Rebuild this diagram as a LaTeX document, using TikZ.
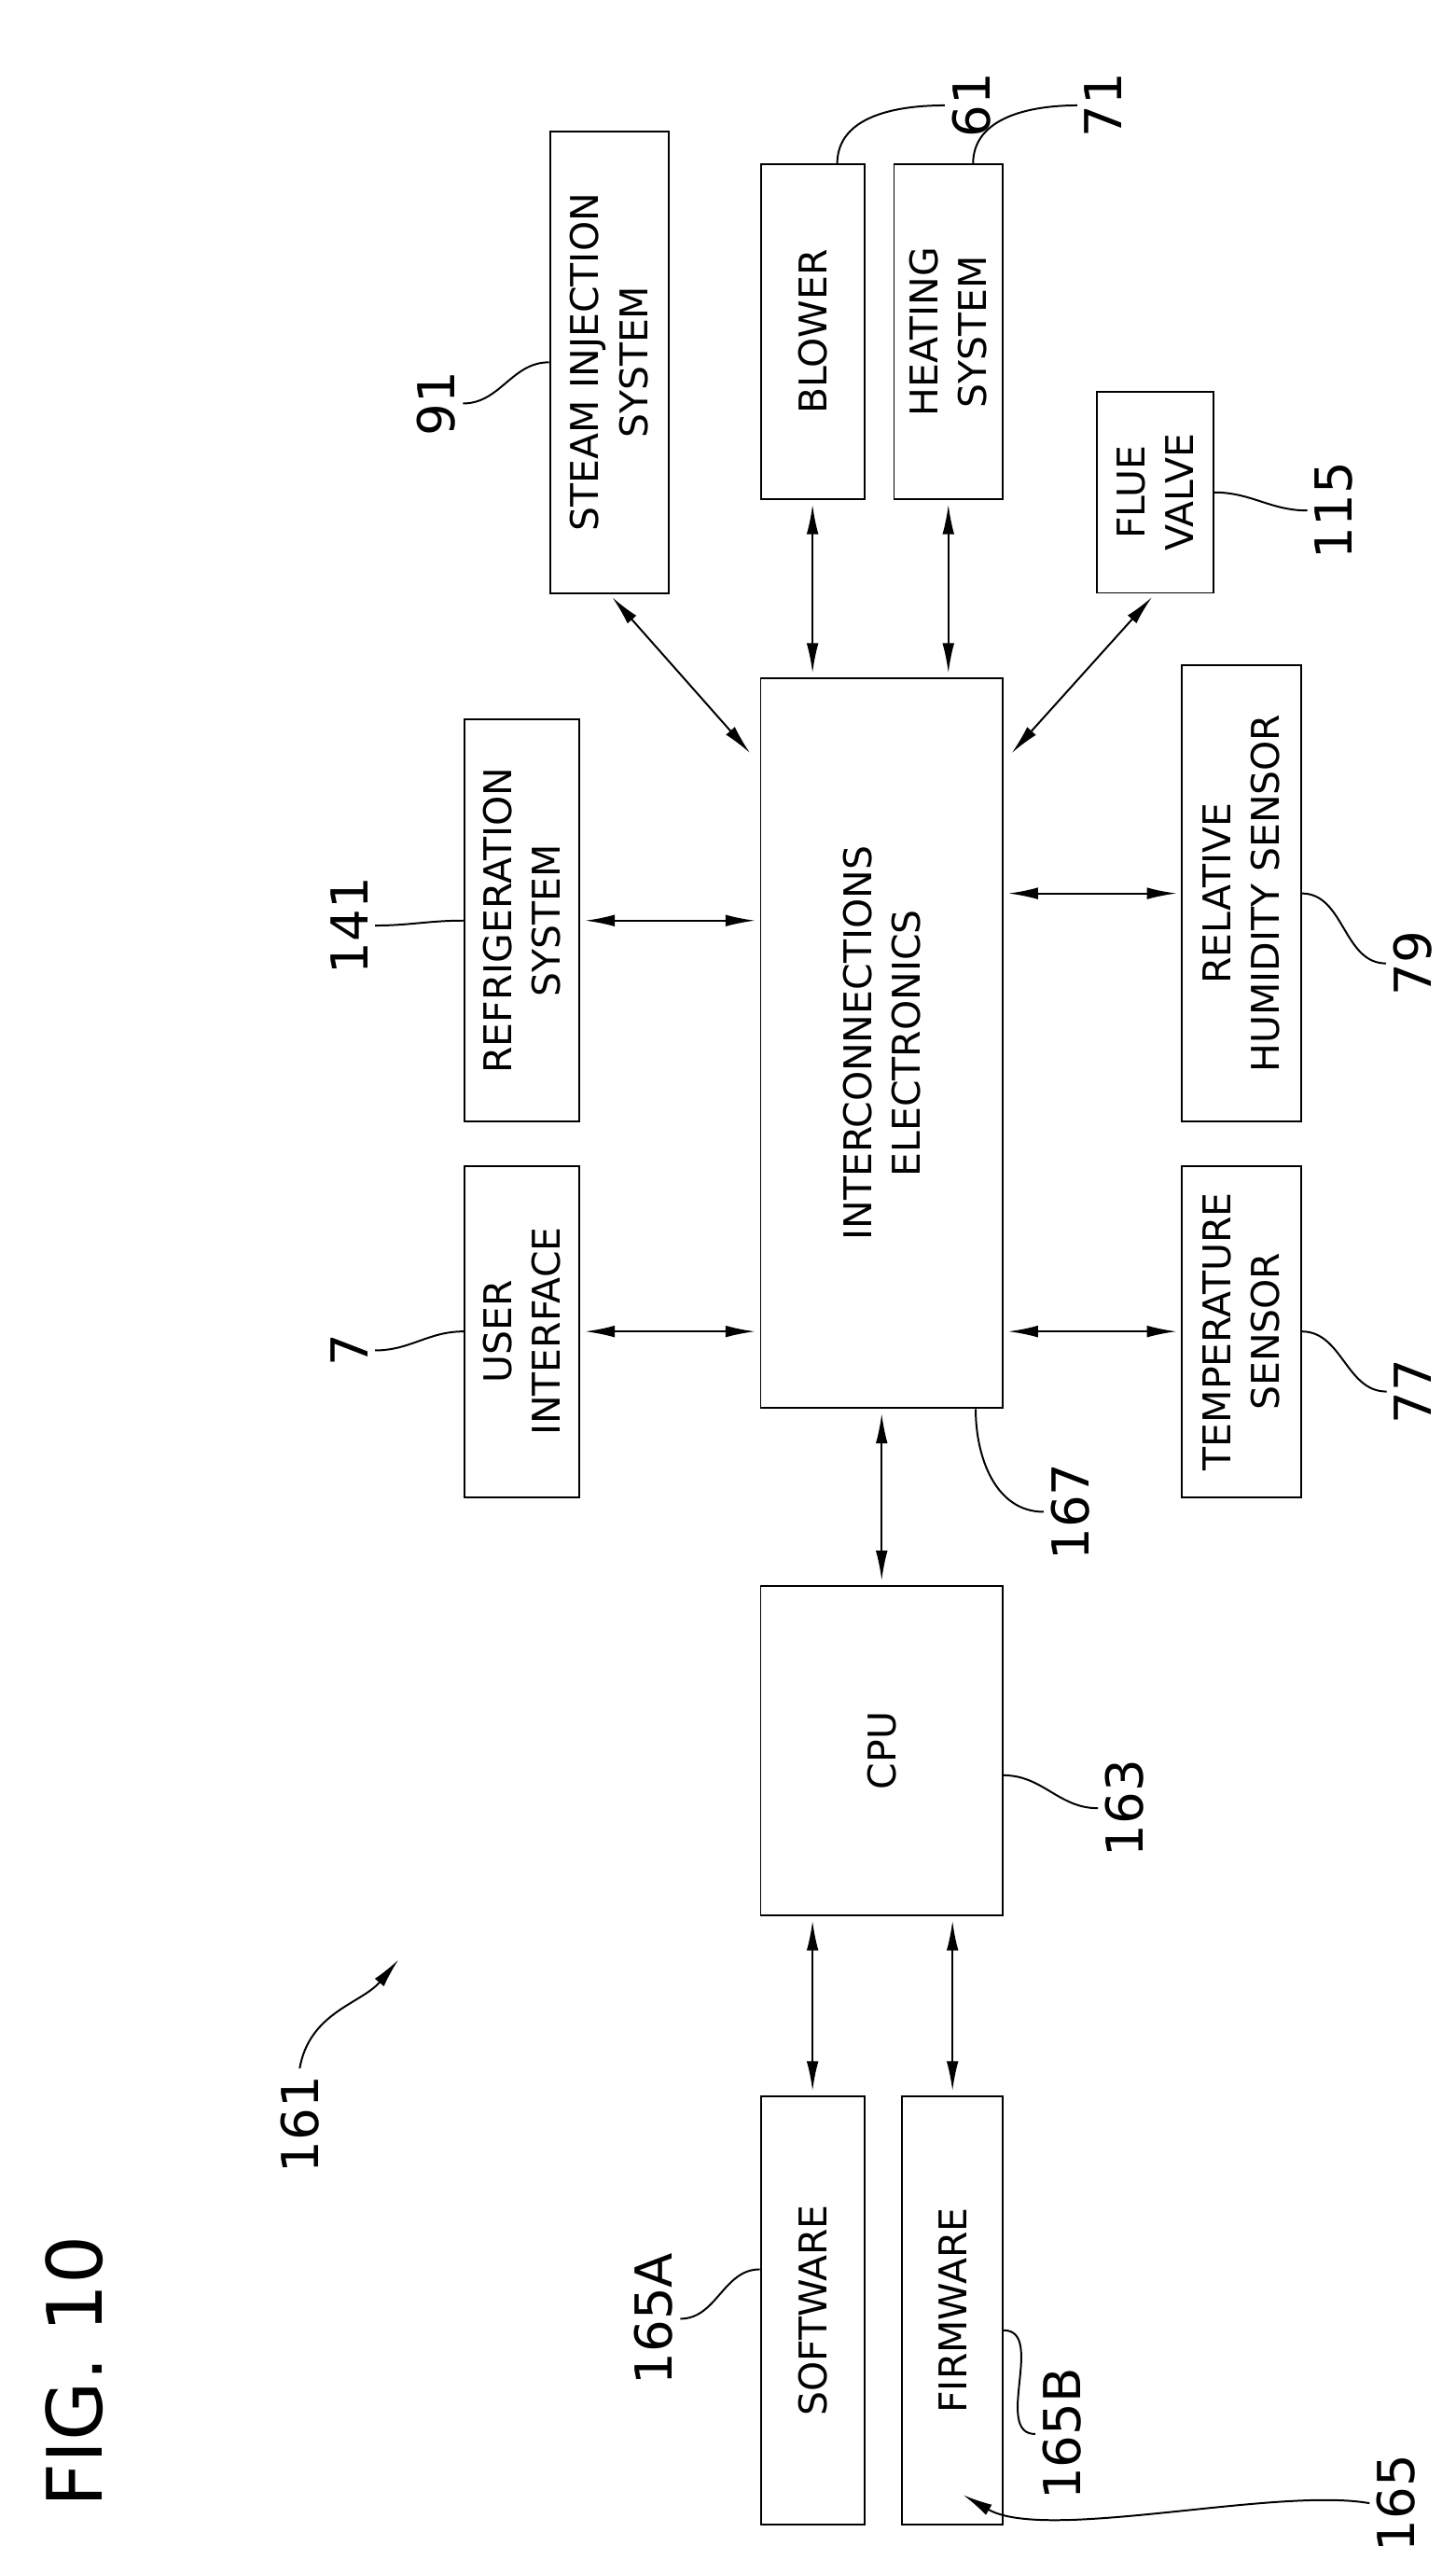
\documentclass[tikz,border=0pt]{standalone}
\usepackage{fontspec}
\setmainfont{DejaVu Sans}
\usetikzlibrary{arrows.meta,positioning,calc}

\begin{document}
\begin{tikzpicture}[x=0.025cm,y=-0.025cm,
	box/.style={draw,thick,rotate=90,align=center,inner sep=0pt,font=\fontsize{16.5}{21}\selectfont},
	num/.style={rotate=90,inner sep=3pt,font=\fontsize{22}{26}\selectfont},
	link/.style={thick,{Latex[length=4.5mm,width=1.8mm]}-{Latex[length=4.5mm,width=1.8mm]},shorten <=2pt,shorten >=2pt},
	lead/.style={thick}]
	\useasboundingbox (0,0) rectangle (884,1563);
	
	% boxes
	\node[box,minimum width=11.075cm,minimum height=3.675cm] (ie) at (535.5,633.5) {INTERCONNECTIONS\\ELECTRONICS};
	\node[box,minimum width=5cm,minimum height=3.675cm] (cpu) at (535.5,1063) {CPU};
	\node[box,minimum width=6.5cm,minimum height=1.575cm] (sw) at (493.5,1403) {SOFTWARE};
	\node[box,minimum width=6.5cm,minimum height=1.525cm] (fw) at (578.5,1403) {FIRMWARE};
	\node[box,minimum width=5.025cm,minimum height=1.75cm] (ui) at (317,808.5) {USER\\INTERFACE};
	\node[box,minimum width=6.1cm,minimum height=1.75cm] (refr) at (317,559) {REFRIGERATION\\SYSTEM};
	\node[box,minimum width=7cm,minimum height=1.8cm] (steam) at (370,220) {STEAM INJECTION\\SYSTEM};
	\node[box,minimum width=5.075cm,minimum height=1.575cm] (blower) at (493.5,201.5) {BLOWER};
	\node[box,minimum width=5.075cm,minimum height=1.65cm] (heat) at (576,201.5) {HEATING\\SYSTEM};
	\node[box,minimum width=3.05cm,minimum height=1.775cm] (flue) at (701.5,299) {FLUE\\VALVE};
	\node[box,minimum width=6.925cm,minimum height=1.8cm] (rh) at (754,542.5) {RELATIVE\\HUMIDITY SENSOR};
	\node[box,minimum width=5.025cm,minimum height=1.8cm] (temp) at (754,808.5) {TEMPERATURE\\SENSOR};
	
	% links
	\draw[link] (steam.west) -- ($(ie.north east)+(-4,48)$);
	\draw[link] (blower.west) -- (blower.west |- ie.east);
	\draw[link] (heat.west) -- (heat.west |- ie.east);
	\draw[link] (flue.west) -- ($(ie.south east)+(3,48)$);
	\draw[link] (refr.south) -- (refr.south -| ie.north);
	\draw[link] (ui.south) -- (ui.south -| ie.north);
	\draw[link] (ie.south |- rh) -- (rh.north);
	\draw[link] (ie.south |- temp) -- (temp.north);
	\draw[link] (ie.west) -- (cpu.east);
	\draw[link] (sw.east |- cpu.west) -- (sw.east);
	\draw[link] (fw.east |- cpu.west) -- (fw.east);
	
	% reference numerals
	\node[num] (l91) at (265,245) {91};
	\node[num] (l61) at (590,64) {61};
	\node[num] (l71) at (670,64) {71};
	\node[num] (l115) at (810,310) {115};
	\node[num] (l141) at (212,562) {141};
	\node[num] (l7) at (212,820) {7};
	\node[num] (l79) at (858,585) {79};
	\node[num] (l77) at (858,845) {77};
	\node[num] (l167) at (650,918) {167};
	\node[num] (l163) at (683,1098) {163};
	\node[num] (l165A) at (397,1408) {165A};
	\node[num] (l165B) at (645,1478) {165B};
	\node[num] (l161) at (182,1290) {161};
	\node[num] (l165) at (848,1520) {165};
	\node[rotate=90,font=\fontsize{33}{38}\selectfont] (fig) at (45,1440) {FIG. 10};
	
	\coordinate (t161) at (242,1190);
	\coordinate (t165) at (585,1515);
	
	\draw[lead] (l91.south) to[out=0,in=180] (steam.north);
	\draw[lead] ($(blower.east)+(15,0)$) to[out=90,in=180] (l61.north);
	\draw[lead] ($(heat.east)+(15,0)$) to[out=90,in=180] (l71.north);
	\draw[lead] (flue.south) to[out=0,in=180] (l115.north);
	\draw[lead] (l141.south) to[out=0,in=180] (refr.north);
	\draw[lead] (l7.south) to[out=0,in=180] (ui.north);
	\draw[lead] (rh.south) to[out=0,in=180] (l79.north);
	\draw[lead] (temp.south) to[out=0,in=180] (l77.north);
	\draw[lead] ($(ie.south west)+(-17,0)$) to[out=-90,in=180] (l167.north);
	\draw[lead] ($(cpu.south)+(0,15)$) to[out=0,in=180] (l163.north);
	\draw[lead] (l165A.south) to[out=0,in=180] ($(sw.north)+(0,-25)$);
	\draw[lead] ($(fw.south)+(0,12)$) to[out=0,in=180] (l165B.north);
	\draw[lead,-{Latex[length=4.5mm,width=1.8mm]}] (l161.east) to[out=80,in=-130] (t161);
	\draw[lead,-{Latex[length=4.5mm,width=1.8mm]}] (l165.north) to[out=170,in=-30,looseness=0.6] (t165);
\end{tikzpicture}
\end{document}
